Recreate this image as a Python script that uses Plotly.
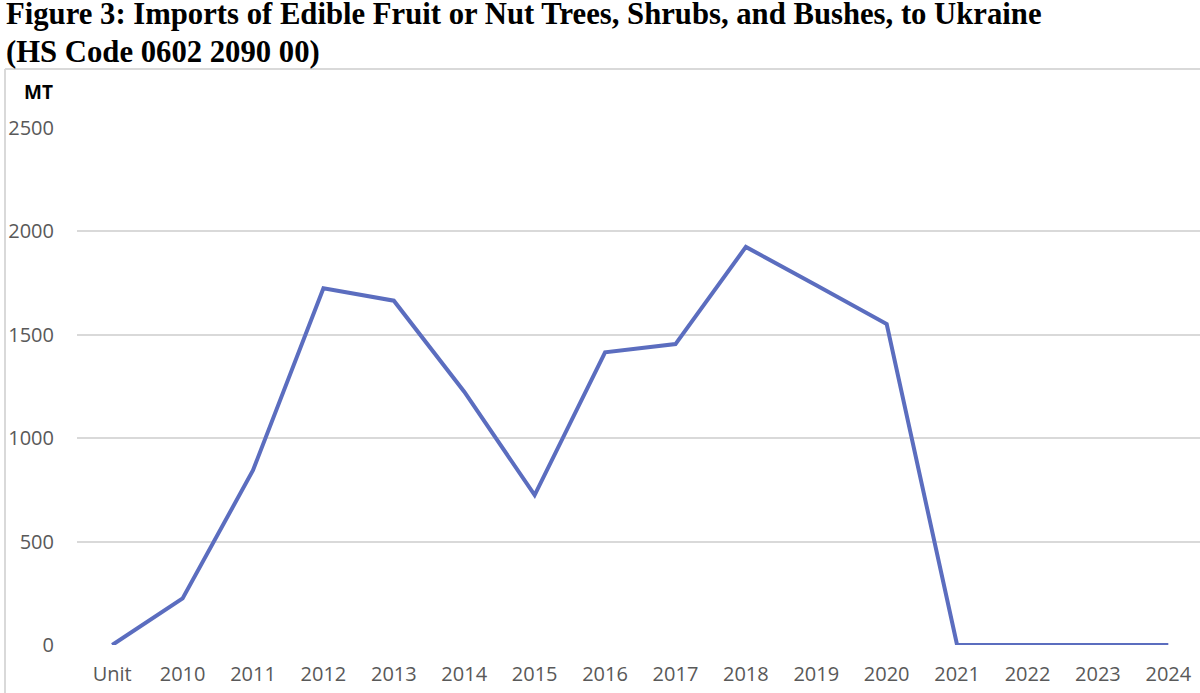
import plotly.graph_objects as go

categories = ["Unit", "2010", "2011", "2012", "2013", "2014", "2015", "2016",
              "2017", "2018", "2019", "2020", "2021", "2022", "2023", "2024"]
imports_mt = [0, 225, 845, 1725, 1665, 1225, 725, 1415, 1455, 1925, 1740, 1552, 0, 0, 0, 0]
y_ticks = [0, 500, 1000, 1500, 2000, 2500]
title_lines = ["Figure 3: Imports of Edible Fruit or Nut Trees, Shrubs, and Bushes, to Ukraine",
               "(HS Code 0602 2090 00)"]

W, H = 1200, 693
L, R, T, B = 77, 0, 128, 48
PW, PH = W - L - R, H - T - B


def px_x(x):
    return (x - L) / PW


def px_y(y):
    return (H - B - y) / PH


fig = go.Figure()
fig.add_trace(go.Scatter(
    x=list(range(len(categories))), y=imports_mt, mode="lines",
    line=dict(color="#5B6DBF", width=4), cliponaxis=False,
    hoverinfo="x+y",
))

xr_right = 15.45

annotations = []
for i, (txt, yc) in enumerate(zip(title_lines, [14.5, 51.5])):
    annotations.append(dict(
        text="<b>" + txt + "</b>", xref="paper", yref="paper",
        x=px_x(4), y=px_y(yc), xanchor="left", yanchor="middle", showarrow=False,
        font=dict(family="Liberation Serif", size=30.7, color="black"),
    ))
annotations.append(dict(
    text="<b>MT</b>", xref="paper", yref="paper",
    x=px_x(22), y=px_y(92), xanchor="left", yanchor="middle", showarrow=False,
    font=dict(family="Open Sans", size=19, color="black"),
))

fig.update_layout(
    width=W, height=H,
    margin=dict(l=L, r=R, t=T, b=B),
    paper_bgcolor="white", plot_bgcolor="white",
    showlegend=False,
    xaxis=dict(
        tickmode="array", tickvals=list(range(len(categories))), ticktext=categories,
        range=[-0.5, xr_right], showgrid=False, zeroline=False, showline=False,
        tickfont=dict(family="Open Sans", size=20, color="#595959"),
        ticks="", ticklabelstandoff=15, ticklabeloverflow="allow",
    ),
    yaxis=dict(
        range=[0, 2500], tickvals=y_ticks, showgrid=True, gridcolor="#D9D9D9", gridwidth=1.5,
        zeroline=False, showline=False,
        tickfont=dict(family="Open Sans", size=20, color="#595959"),
        ticks="", ticklabelstandoff=22,
    ),
    annotations=annotations,
    shapes=[
        dict(type="line", xref="paper", yref="paper",
             x0=px_x(5), x1=1.01, y0=px_y(69), y1=px_y(69),
             line=dict(color="#D9D9D9", width=2)),
        dict(type="line", xref="paper", yref="paper",
             x0=px_x(5), x1=px_x(5), y0=px_y(69), y1=px_y(H + 5),
             line=dict(color="#D9D9D9", width=2)),
    ],
)

fig.write_html("out.html", config={"displayModeBar": False},
               post_script="document.body.style.margin='0';document.body.style.overflow='hidden';")
